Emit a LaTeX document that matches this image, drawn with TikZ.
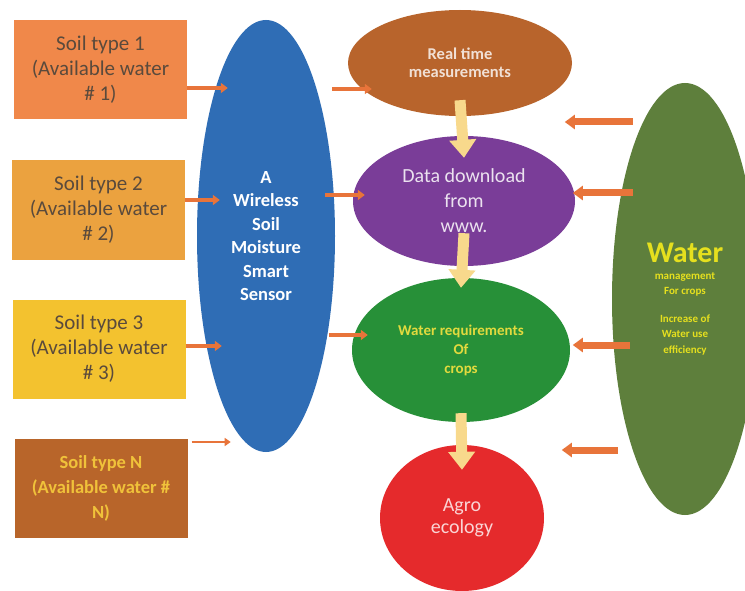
\documentclass[tikz,border=0pt]{standalone}
\usepackage{fontspec}
\setmainfont{Carlito}
\usetikzlibrary{shapes.geometric,arrows.meta,calc}
\definecolor{soilA}{HTML}{F0884A}
\definecolor{soilB}{HTML}{EBA23F}
\definecolor{soilC}{HTML}{F3C22F}
\definecolor{soilN}{HTML}{B8652A}
\definecolor{soiltext}{HTML}{5A4A3C}
\definecolor{soilNtext}{HTML}{F0C23A}
\definecolor{sensorblue}{HTML}{2F6DB5}
\definecolor{rtbrown}{HTML}{B8642C}
\definecolor{ddpurple}{HTML}{7A3D98}
\definecolor{wrgreen}{HTML}{279038}
\definecolor{agred}{HTML}{E52A2C}
\definecolor{watergreen}{HTML}{5E7F3C}
\definecolor{arroworange}{HTML}{E8743A}
\definecolor{arrowpale}{HTML}{F8D98C}
\definecolor{wateryellow}{HTML}{E6E01E}
\definecolor{wryellow}{HTML}{E2DA3E}
\tikzset{
  soilbox/.style={rectangle, minimum width=173pt, minimum height=99pt, inner sep=0pt,
    align=center, font=\fontsize{21}{25}\selectfont},
  oval/.style={ellipse, inner sep=0pt, align=center},
  feed/.style={draw=arroworange, line width=3.5pt, -{Triangle[length=7pt,width=10pt]}},
  feedthin/.style={draw=arroworange, line width=2.5pt, -{Triangle[length=6pt,width=8pt]}},
  back/.style={draw=arroworange, line width=7pt, -{Triangle[length=10pt,width=14pt]}},
  flow/.style={draw=arrowpale, line width=11pt, -{Triangle[length=18pt,width=26pt]}}
}
\begin{document}
\begin{tikzpicture}[x=1pt,y=-1pt]
\useasboundingbox (0,0) rectangle (745,591);
\fill[white] (0,0) rectangle (745,591);

% soil boxes
\node[soilbox, fill=soilA, text=soiltext] (s1) at (100.5,69.5) {Soil type 1\\(Available water\\\# 1)};
\node[soilbox, fill=soilB, text=soiltext] (s2) at (98.5,210) {Soil type 2\\(Available water\\\# 2)};
\node[soilbox, fill=soilC, text=soiltext] (s3) at (99,349) {Soil type 3\\(Available water\\\# 3)};
\node[soilbox, fill=soilN, text=soilNtext, font=\fontsize{18.5}{25}\selectfont\bfseries] (sN) at (101,488) {Soil type N\\(Available water \#\\N)};

% sensor
\node[oval, fill=sensorblue, text=white, minimum width=138pt, minimum height=432pt,
  font=\fontsize{18.5}{23.5}\selectfont\bfseries] (sensor) at (266,236)
  {A\\Wireless\\Soil\\Moisture\\Smart\\Sensor};

% middle column
\node[oval, fill=rtbrown, text=white!80!rtbrown, minimum width=224pt, minimum height=106pt,
  font=\fontsize{16.5}{18}\selectfont\bfseries] (rt) at (460,63) {Real time\\measurements};
\node[oval, fill=ddpurple, text=white!85!ddpurple, minimum width=222pt, minimum height=130pt,
  font=\fontsize{20}{25}\selectfont] (dd) at (464,201) {Data download\\from\\www.};
\node[oval, fill=wrgreen, text=wryellow, minimum width=218pt, minimum height=144pt,
  font=\fontsize{15}{19}\selectfont\bfseries] (wr) at (461,350) {Water requirements\\Of\\crops};
\node[oval, fill=agred, text=white!80!agred, minimum width=164pt, minimum height=146pt,
  font=\fontsize{20}{22}\selectfont] (ag) at (462,518) {Agro\\ecology};

% water ellipse
\node[oval, fill=watergreen, text=wateryellow, minimum width=146pt, minimum height=432pt,
  font=\fontsize{11}{15.5}\selectfont\bfseries] (water) at (685,299)
  {{\fontsize{30}{32}\selectfont\bfseries Water}\\[1pt]management\\For crops\\[12pt]Increase of\\Water use\\efficiency};

% soil -> sensor
\draw[feed] ([yshift=-18.5pt]s1.east) -- ([xshift=31pt,yshift=-18.5pt]s1.east -| sensor.west);
\draw[feed] ([yshift=10pt]s2.east) -- ([xshift=23pt,yshift=10pt]s2.east -| sensor.west);
\draw[feed] ([yshift=3pt]s3.east) -- ([xshift=25pt,yshift=3pt]s3.east -| sensor.west);
\draw[feedthin] ([xshift=4pt,yshift=46pt]sN.east) -- ([xshift=43pt,yshift=46pt]sN.east);

% sensor -> middle
\draw[feed] ([xshift=-3pt,yshift=-26pt]rt.west -| sensor.east) -- ([xshift=24pt,yshift=-26pt]rt.west);
\draw[feed] ([xshift=-10pt,yshift=6pt]dd.west -| sensor.east) -- ([xshift=12pt,yshift=6pt]dd.west);
\draw[feed] ([xshift=-6pt,yshift=15pt]wr.west -| sensor.east) -- ([xshift=16pt,yshift=15pt]wr.west);

% water -> middle
\draw[back] ([xshift=21pt,yshift=177pt]water.west) -- ([xshift=-47pt,yshift=177pt]water.west);
\draw[back] ([xshift=21pt,yshift=106pt]water.west) -- ([xshift=-39pt,yshift=106pt]water.west);
\draw[back] ([xshift=18pt,yshift=-46pt]water.west) -- ([xshift=-39pt,yshift=-46pt]water.west);
\draw[back] ([xshift=6pt,yshift=-151pt]water.west) -- ([xshift=-50pt,yshift=-151pt]water.west);

% vertical flow
\draw[flow] ([yshift=16pt]rt.south) -- ([yshift=-22pt]dd.north);
\draw[flow] ([yshift=33pt]dd.south) -- ([yshift=-10pt]wr.north);
\draw[flow] ([yshift=9pt]wr.south) -- ([yshift=-25pt]ag.north);
\end{tikzpicture}
\end{document}
